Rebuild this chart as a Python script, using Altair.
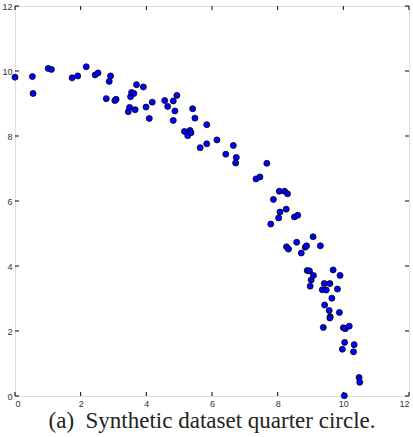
import altair as alt
import pandas as pd

xs = [0.00, 0.53, 0.55, 1.01, 1.11, 1.74, 1.91, 2.17, 2.44, 2.53, 2.91, 2.87, 2.78, 3.04, 3.08,
      3.45, 3.49, 3.52, 3.55, 3.62, 3.66, 3.70, 3.91, 3.99, 4.09, 4.18, 4.56, 4.65, 4.82, 4.82,
      4.87, 4.93, 5.16, 5.26, 5.33, 5.36, 5.41, 5.48, 5.64, 5.84, 5.84, 6.15, 6.42, 6.65, 6.74,
      6.72, 7.67, 7.34, 7.46, 8.05, 8.21, 8.30, 7.87, 8.07, 8.03, 8.26, 7.79, 8.51, 8.61, 9.08,
      8.58, 8.27, 8.33, 8.84, 8.88, 9.30, 8.72, 8.90, 8.97, 9.09, 9.02, 8.99, 9.69, 9.90, 9.42,
      9.59, 9.36, 9.48, 9.82, 9.65, 9.43, 9.57, 9.60, 9.59, 9.88, 9.39, 10.00, 10.06, 10.18,
      10.04, 9.97, 10.33, 10.31, 10.48, 10.50, 10.03]
ys = [9.81, 9.83, 9.31, 10.08, 10.05, 9.79, 9.85, 10.13, 9.88, 9.94, 9.85, 9.68, 9.15, 9.09, 9.13,
      8.75, 8.88, 9.21, 9.34, 9.31, 8.81, 9.58, 9.51, 8.89, 8.54, 9.04, 9.09, 8.91, 9.08, 8.48,
      8.77, 9.25, 8.14, 8.01, 8.17, 8.10, 8.84, 8.55, 7.64, 7.76, 8.35, 7.88, 7.44, 7.71, 7.34,
      7.17, 7.16, 6.68, 6.74, 6.30, 6.30, 6.22, 6.05, 5.66, 5.48, 5.75, 5.29, 5.51, 5.56, 4.90,
      4.73, 4.59, 4.52, 4.58, 4.62, 4.62, 4.40, 3.86, 3.85, 3.71, 3.57, 3.38, 3.88, 3.71, 3.46,
      3.46, 3.27, 3.26, 3.29, 3.01, 2.80, 2.63, 2.44, 2.40, 2.57, 2.11, 2.10, 2.07, 2.15,
      1.65, 1.44, 1.58, 1.36, 0.57, 0.42, 0.01]
ticks = [0, 2, 4, 6, 8, 10, 12]
caption = "(a)\u00a0 Synthetic dataset quarter circle."

W, H = 394, 390
df = pd.DataFrame({"x": xs, "y": ys})
tdf = pd.DataFrame({"t": ticks})

xscale = alt.Scale(domain=[0, 12], nice=False, zero=False)
yscale = alt.Scale(domain=[0, 12], nice=False, zero=False)
lab = dict(labelFont="Liberation Sans", labelFontSize=9, labelColor="#333",
           ticks=False, domain=False, grid=False, title=None, values=ticks)

pts = alt.Chart(df).mark_point(filled=True, shape="circle", size=36, fill="#0000ff",
                               stroke="black", strokeWidth=0.8, opacity=1, clip=False).encode(
    x=alt.X("x:Q", scale=xscale, axis=alt.Axis(labelPadding=3, **lab)),
    y=alt.Y("y:Q", scale=yscale, axis=alt.Axis(labelPadding=3, **lab)),
)

tb = alt.Chart(tdf).mark_rule(color="black", strokeWidth=1).encode(
    x=alt.X("t:Q", scale=xscale), y=alt.value(H - 4), y2=alt.value(H))
tt = alt.Chart(tdf).mark_rule(color="black", strokeWidth=1).encode(
    x=alt.X("t:Q", scale=xscale), y=alt.value(0), y2=alt.value(4))
tl = alt.Chart(tdf).mark_rule(color="black", strokeWidth=1).encode(
    y=alt.Y("t:Q", scale=yscale), x=alt.value(0), x2=alt.value(4))
tr = alt.Chart(tdf).mark_rule(color="black", strokeWidth=1).encode(
    y=alt.Y("t:Q", scale=yscale), x=alt.value(W - 4), x2=alt.value(W))

chart = alt.layer(tb, tt, tl, tr, pts).properties(
    width=W, height=H,
    title=alt.TitleParams(caption, orient="bottom", anchor="middle", font="Liberation Serif",
                          fontSize=23, fontWeight="normal", color="#222", offset=2),
    autosize=alt.AutoSizeParams(type="none"),
    padding={"left": 15, "top": 6, "right": 4, "bottom": 41},
).configure_view(stroke="black", strokeWidth=1.2).configure(background="white")

chart.save("out.html", embed_options={"renderer": "svg", "actions": False})
